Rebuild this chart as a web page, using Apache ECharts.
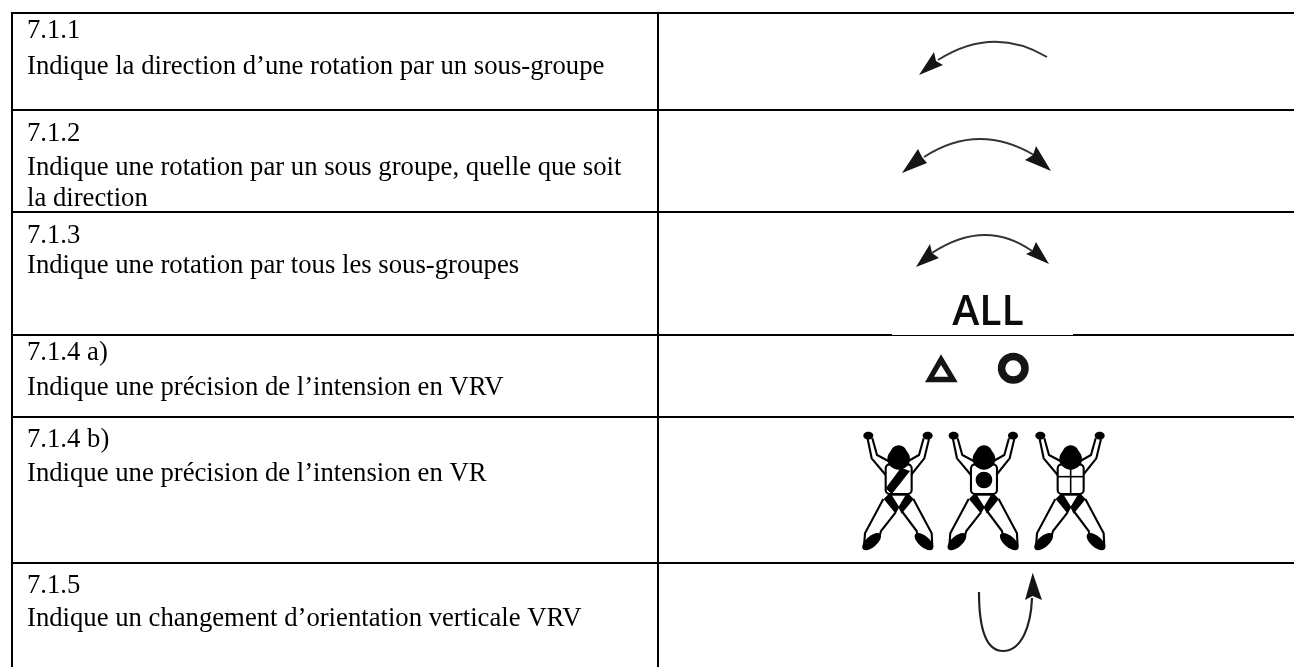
<!DOCTYPE html>
<html><head><meta charset="utf-8">
<style>html,body{margin:0;padding:0;background:#fff}#c{width:1294px;height:667px}</style>
<script src="https://cdn.jsdelivr.net/npm/echarts@6/dist/echarts.min.js"></script>
</head><body><div id="c"></div>
<script>
const rowIds = ['7.1.1','7.1.2','7.1.3','7.1.4 a)','7.1.4 b)','7.1.5'];
const rowDescriptions = [
  ['Indique la direction d\u2019une rotation par un sous-groupe'],
  ['Indique une rotation par un sous groupe, quelle que soit','la direction'],
  ['Indique une rotation par tous les sous-groupes'],
  ['Indique une pr\u00e9cision de l\u2019intension en VRV'],
  ['Indique une pr\u00e9cision de l\u2019intension en VR'],
  ['Indique un changement d\u2019orientation verticale VRV']
];
const allLabel = 'ALL';
const fontPx = 26.7;
const idBaselines = [38,141.7,243,360.7,447,593];
const descBaselines = [[74],[175,206.7],[273],[395],[481.7],[626.7]];
const textX = 27;
const baselineShift = 0.78 * fontPx;
const textFont = fontPx + 'px "Liberation Serif"';

const ruleSegments = [
  [11,13,1294,13,2],[12,110,1294,110,2],[12,212,1294,212,2],
  [12,335,892,335,2],[892,335.5,1073,335.5,1],[1073,335,1294,335,2],
  [12,417,1294,417,2],[12,563,1294,563,2],
  [12,12,12,667,2],[658,12,658,667,2]
];
const curves = [
  [1047,57,938,60,993,25],
  [1034,155,924,157,978,122],
  [1032,251,932,253,985,218]
];
const arrowHeads = [
  [[919,75],[934,52],[936,61],[943,65]],
  [[902,173],[918,149],[922,157],[927,163]],
  [[1051,171],[1036,146],[1033,155],[1025,160]],
  [[916,267],[930,244],[932,253],[939,258]],
  [[1049,264],[1036,242],[1032,251],[1026,254]],
  [[1032.7,572.7],[1025,600],[1032.7,596],[1042,600]]
];
const uTurnSegments = [
  [979,592,979,625,985,651,1003,651],
  [1003,651,1022,651,1031,625,1032,598]
];
const triangleOuter = [[941,354.3],[925,382.3],[957.7,382.3]];
const triangleInner = [[941,365],[934,376.7],[948.3,376.7]];
const ringMark = [1013.3,368.3,11.75];

const figureOrigins = [[855,425],[940.3,425],[1027,425]];
const figArms = [
  [[38,42],[50,100],[92,150]],[[52,40],[66,90],[100,108]],
  [[222,42],[208,100],[168,150]],[[206,40],[192,90],[160,108]]
];
const figLegs = [
  [[85,222],[30,325],[27,365]],[[122,262],[78,318],[74,332]],
  [[175,222],[230,325],[232,365]],[[140,258],[185,318],[188,332]]
];
const figHands = [[40,32],[218,32]];
const figFeet = [[50,350,0.72],[207,350,-0.72]];
const figHeadParts = [[131,102,34,32],[131,87,25,26]];
const figTorso = [92,118,78,89];
const figHips = [
  [[86,222],[100,208],[110,210],[133,247],[122,266]],
  [[176,222],[162,208],[152,210],[130,247],[140,266]]
];
const figCrotch = [[100,209],[162,209]];
const figSash = [[138,128],[165,138],[110,208],[92,190]];
const figDot = [131,165,25];
const figCrossH = [[92,155],[170,155]];
const figCrossV = [[131,125],[131,205]];

const ink = '#161414';
function P(api,p){return api.coord(p);}
function Ps(api,a){return a.map(p=>api.coord(p));}

function renderRule(params,api){
  const s = ruleSegments[params.dataIndex];
  const a=P(api,[s[0],s[1]]), b=P(api,[s[2],s[3]]);
  return {type:'line',shape:{x1:a[0],y1:a[1],x2:b[0],y2:b[1]},style:{stroke:'#000',lineWidth:s[4]}};
}
const textItems = [];
rowIds.forEach((id,i)=>{
  textItems.push({t:id,y:idBaselines[i]});
  rowDescriptions[i].forEach((d,j)=>textItems.push({t:d,y:descBaselines[i][j]}));
});
function renderText(params,api){
  const it = textItems[params.dataIndex];
  const p = P(api,[textX,it.y-baselineShift]);
  return {type:'text',style:{text:it.t,x:p[0],y:p[1],fill:'#000',font:textFont,textAlign:'left',textVerticalAlign:'top'}};
}
function renderIcons(params,api){
  const ch=[];
  curves.forEach(c=>{
    const a=P(api,[c[0],c[1]]),b=P(api,[c[2],c[3]]),q=P(api,[c[4],c[5]]);
    ch.push({type:'bezierCurve',shape:{x1:a[0],y1:a[1],x2:b[0],y2:b[1],cpx1:q[0],cpy1:q[1]},style:{stroke:'#333',lineWidth:2,fill:null}});
  });
  arrowHeads.forEach(h=>ch.push({type:'polygon',shape:{points:Ps(api,h)},style:{fill:ink}}));
  uTurnSegments.forEach(u=>{
    const u0=P(api,[u[0],u[1]]),u1=P(api,[u[2],u[3]]),u2=P(api,[u[4],u[5]]),u3=P(api,[u[6],u[7]]);
    ch.push({type:'bezierCurve',shape:{x1:u0[0],y1:u0[1],cpx1:u1[0],cpy1:u1[1],cpx2:u2[0],cpy2:u2[1],x2:u3[0],y2:u3[1]},style:{stroke:'#222',lineWidth:2.2,fill:null}});
  });
  ch.push({type:'polygon',shape:{points:Ps(api,triangleOuter)},style:{fill:ink}});
  ch.push({type:'polygon',shape:{points:Ps(api,triangleInner)},style:{fill:'#fff'}});
  const r=P(api,[ringMark[0],ringMark[1]]);
  ch.push({type:'circle',shape:{cx:r[0],cy:r[1],r:ringMark[2]},style:{stroke:ink,lineWidth:7.5,fill:null}});
  const al=P(api,[988,325-0.78*41]);
  ch.push({type:'text',style:{text:allLabel,x:al[0],y:al[1],fill:'#0c0c0c',font:'600 41px "Open Sans"',textAlign:'center',textVerticalAlign:'top'}});
  figureOrigins.forEach((o,idx)=>{
    const L=p=>api.coord([o[0]+p[0]/3,o[1]+p[1]/3]);
    const stroke={stroke:'#000',lineWidth:2.1,fill:null};
    figArms.concat(figLegs).forEach(l=>ch.push({type:'polyline',shape:{points:l.map(L)},style:stroke}));
    const t=L([figTorso[0],figTorso[1]]);
    ch.push({type:'rect',shape:{x:t[0],y:t[1],width:figTorso[2]/3,height:figTorso[3]/3,r:4},style:{stroke:'#000',lineWidth:2.1,fill:'#fff'}});
    figHands.forEach(h=>{const c=L(h);ch.push({type:'ellipse',shape:{cx:c[0],cy:c[1],rx:5,ry:3.8},style:{fill:'#000'}});});
    figFeet.forEach(f=>{const c=L(f);ch.push({type:'ellipse',shape:{cx:0,cy:0,rx:11.5,ry:5.5},x:c[0],y:c[1],rotation:f[2],style:{fill:'#000'}});});
    figHeadParts.forEach(h=>{const c=L(h);ch.push({type:'ellipse',shape:{cx:c[0],cy:c[1],rx:h[2]/3,ry:h[3]/3},style:{fill:'#000'}});});
    figHips.forEach(h=>ch.push({type:'polygon',shape:{points:h.map(L)},style:{fill:'#000'}}));
    ch.push({type:'polyline',shape:{points:figCrotch.map(L)},style:stroke});
    if(idx===0) ch.push({type:'polygon',shape:{points:figSash.map(L)},style:{fill:'#000'}});
    if(idx===1){const d=L(figDot);ch.push({type:'circle',shape:{cx:d[0],cy:d[1],r:figDot[2]/3},style:{fill:'#000'}});}
    if(idx===2){[figCrossH,figCrossV].forEach(l=>ch.push({type:'polyline',shape:{points:l.map(L)},style:{stroke:'#000',lineWidth:1.6,fill:null}}));}
  });
  return {type:'group',children:ch};
}
const chart = echarts.init(document.getElementById('c'),null,{renderer:'canvas'});
const hiddenAxis = {show:false,type:'value'};
chart.setOption({
  animation:false,
  backgroundColor:'#fff',
  grid:{left:0,right:0,top:0,bottom:0},
  xAxis:Object.assign({},hiddenAxis,{min:0,max:1294}),
  yAxis:Object.assign({},hiddenAxis,{min:0,max:667,inverse:true}),
  tooltip:{show:false},
  series:[
    {type:'custom',name:'rules',coordinateSystem:'cartesian2d',clip:false,silent:true,renderItem:renderRule,data:ruleSegments.map((s,i)=>[i,0])},
    {type:'custom',name:'text',coordinateSystem:'cartesian2d',clip:false,silent:true,renderItem:renderText,data:textItems.map((s,i)=>[i,0])},
    {type:'custom',name:'icons',coordinateSystem:'cartesian2d',clip:false,silent:true,renderItem:renderIcons,data:[[0,0]]}
  ]
});
</script></body></html>
